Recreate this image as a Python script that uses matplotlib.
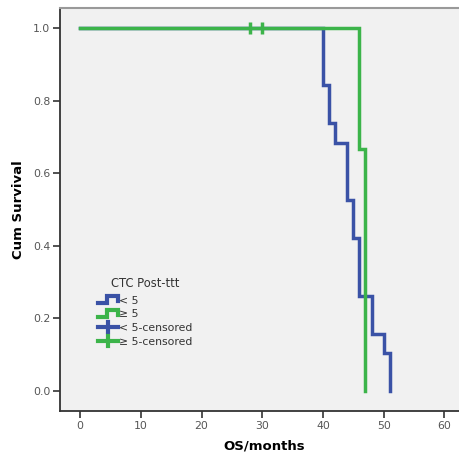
import matplotlib
matplotlib.use("Agg")
import matplotlib.pyplot as plt
from matplotlib.lines import Line2D
from matplotlib.legend_handler import HandlerBase

# Data
blue_times = [0, 40, 41, 42, 44, 45, 46, 48, 50, 51]
blue_surv = [1.0, 0.842, 0.737, 0.684, 0.526, 0.421, 0.263, 0.158, 0.105, 0.0]
green_times = [0, 46, 47]
green_surv = [1.0, 0.667, 0.0]
green_censor_times = [28, 30]
green_censor_surv = [1.0, 1.0]

x_ticks = [0, 10, 20, 30, 40, 50, 60]
y_ticks = [0.0, 0.2, 0.4, 0.6, 0.8, 1.0]
legend_title = "CTC Post-ttt"
legend_labels = ["< 5", "\u2265 5", "< 5-censored", "\u2265 5-censored"]

BLUE = "#3a52a6"
GREEN = "#3cb44a"

fig = plt.figure(figsize=(4.59, 4.57), dpi=100)
ax = fig.add_axes([60/459, 1-411/457, 1-60/459 + 0.02, (411-8)/457])
ax.set_facecolor("#f1f1f1")

ax.step(blue_times, blue_surv, where="post", color=BLUE, lw=2.5, zorder=3,
        solid_joinstyle="miter")
ax.step(green_times, green_surv, where="post", color=GREEN, lw=2.5, zorder=4,
        solid_joinstyle="miter")
ax.plot(green_censor_times, green_censor_surv, ls="none", marker="|",
        markersize=8, markeredgewidth=2.5, color=GREEN, zorder=5)

ax.set_xlim(-3.3, 62.4 + 0.02*459/6.07)
ax.set_ylim(-0.055, 1.055)
ax.set_xticks(x_ticks)
ax.set_yticks(y_ticks)
ax.set_yticklabels([f"{v:.1f}" for v in y_ticks])
ax.tick_params(direction="out", length=5, width=1.2, color="#333333",
               labelsize=7.8, labelcolor="#555555", pad=2)

for s in ["left", "bottom"]:
    ax.spines[s].set_color("#333333")
    ax.spines[s].set_linewidth(1.3)
ax.spines["top"].set_color("#999999")
ax.spines["top"].set_linewidth(1.5)
ax.spines["right"].set_visible(False)

ax.set_xlabel("OS/months", fontsize=9.5, fontweight="bold", labelpad=6)
ax.set_ylabel("Cum Survival", fontsize=9.5, fontweight="bold", labelpad=6)


class StepHandler(HandlerBase):
    def __init__(self, color):
        super().__init__()
        self.color = color

    def create_artists(self, legend, orig_handle, xdescent, ydescent, width,
                       height, fontsize, trans):
        x0 = -xdescent
        y0 = -ydescent
        xs = [x0, x0 + 0.45*width, x0 + 0.45*width, x0 + width, x0 + width]
        ys = [y0 + 0.1*height, y0 + 0.1*height, y0 + 0.9*height,
              y0 + 0.9*height, y0 + 0.35*height]
        ln = Line2D(xs, ys, color=self.color, lw=3.0, transform=trans,
                    solid_joinstyle="miter")
        return [ln]


class CensorHandler(HandlerBase):
    def __init__(self, color):
        super().__init__()
        self.color = color

    def create_artists(self, legend, orig_handle, xdescent, ydescent, width,
                       height, fontsize, trans):
        x0 = -xdescent
        y0 = -ydescent
        h = Line2D([x0, x0 + width], [y0 + 0.5*height]*2, color=self.color,
                   lw=3.0, transform=trans)
        v = Line2D([x0 + 0.5*width]*2, [y0 - 0.05*height, y0 + 1.05*height],
                   color=self.color, lw=3.0, transform=trans)
        return [h, v]


handles = [Line2D([], [], color=BLUE), Line2D([], [], color=GREEN),
           Line2D([], [], color=BLUE, marker="+"),
           Line2D([], [], color=GREEN, marker="+")]
hmap = {handles[0]: StepHandler(BLUE), handles[1]: StepHandler(GREEN),
        handles[2]: CensorHandler(BLUE), handles[3]: CensorHandler(GREEN)}
leg = ax.legend(handles, legend_labels, title=legend_title, handler_map=hmap,
                loc="upper left", bbox_to_anchor=(98/459, 1-277/457),
                bbox_transform=fig.transFigure, frameon=False, fontsize=7.8,
                title_fontsize=8.3, handlelength=1.8, handleheight=0.85,
                handletextpad=0.15, labelspacing=0.33, borderpad=0,
                borderaxespad=0)
leg._legend_box.sep = 4
for t in leg.get_texts():
    t.set_color("#333333")
leg.get_title().set_color("#333333")

fig.savefig("out.png", dpi=100, facecolor="white")
